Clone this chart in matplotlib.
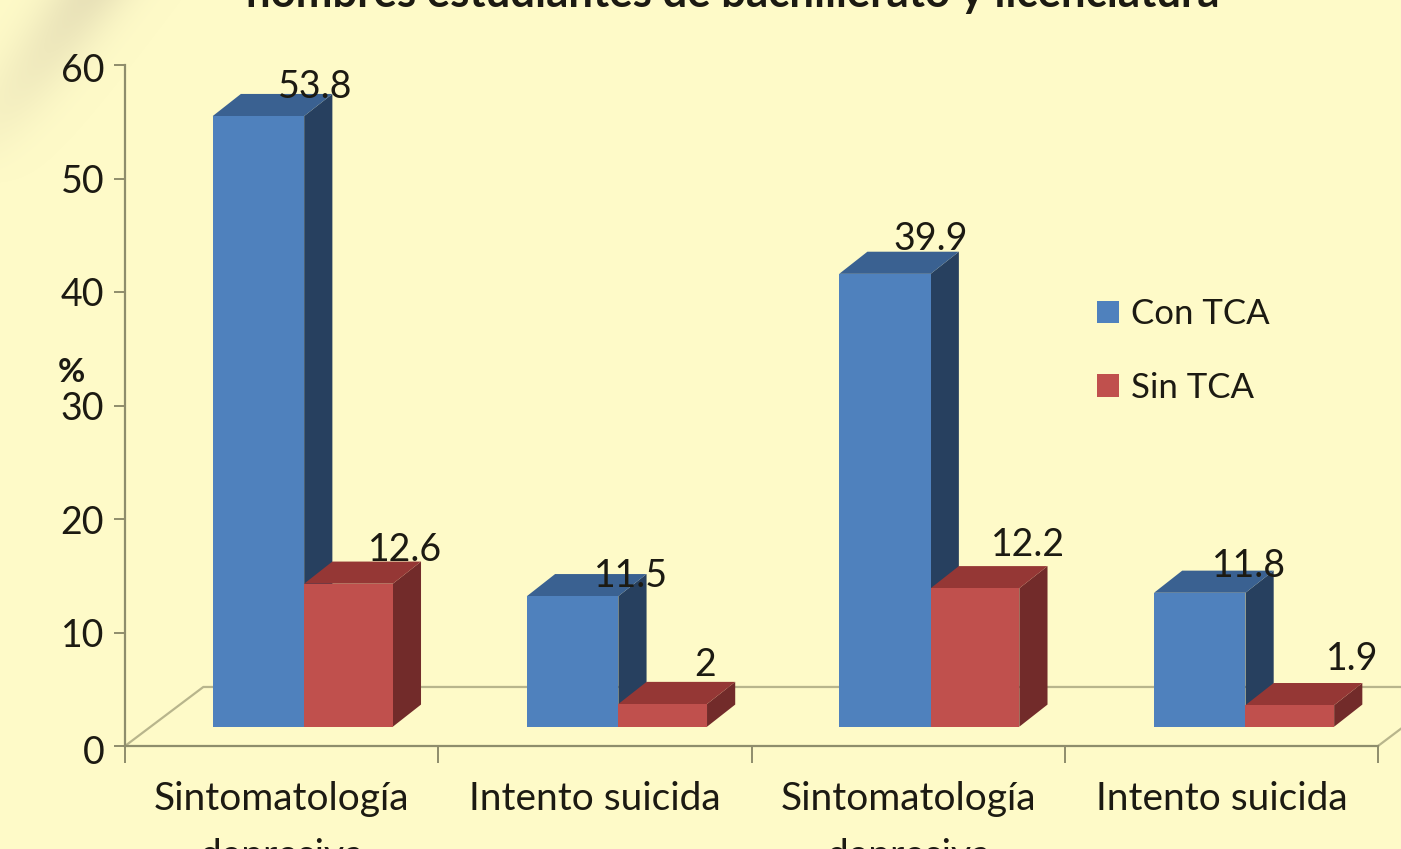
import matplotlib
matplotlib.use('Agg')
import matplotlib.pyplot as plt
from matplotlib.transforms import ScaledTranslation
import numpy as np

categorias = ['Sintomatología\ndepresiva', 'Intento suicida', 'Sintomatología\ndepresiva', 'Intento suicida']
con_tca = [53.8, 11.5, 39.9, 11.8]
sin_tca = [12.6, 2, 12.2, 1.9]
etiquetas_con = ['53.8', '11.5', '39.9', '11.8']
etiquetas_sin = ['12.6', '2', '12.2', '1.9']
y_ticks = [0, 10, 20, 30, 40, 50, 60]

plt.rcParams['font.family'] = ['Lato', 'DejaVu Sans']
FONDO = '#FEFAC8'
TEXTO = '#1c1a12'

W, H = 1401, 849
fig = plt.figure(figsize=(W / 100, H / 100), dpi=100, facecolor=FONDO)

# brillo de la esquina superior izquierda
yy, xx = np.mgrid[0:190, 0:190]
d = xx + yy * 0.7
brillo = np.exp(-((d - 85) / 42.0) ** 2) * np.clip(1 - yy / 185.0, 0, 1)
img = np.zeros((190, 190, 4))
img[..., 0] = 0.88
img[..., 1] = 0.85
img[..., 2] = 0.70
img[..., 3] = brillo * 0.7
fig.figimage(img, xo=0, yo=H - 190, origin='upper', zorder=-1)

ax = fig.add_axes([125 / W, 1 - 746 / H, (1378 - 125) / W, (746 - 65) / H])
ax.patch.set_alpha(0)
ax.set_xlim(0, 4)
ax.set_ylim(0, 60)

ancho_con = 0.292
ancho_sin = 0.283
base = 1.7
prof_x = 0.09
prof_y = 1.95
x_ini = np.array([0.28, 1.283, 2.28, 3.285])

# suelo del grafico
ax.plot([0, 0.25, 4.3], [0, 5.2, 5.2], color='#B8B58C', lw=1.6, clip_on=False, zorder=1)
ax.plot([4, 4.25], [0, 5.2], color='#B8B58C', lw=1.6, clip_on=False, zorder=1)


def barra_3d(x, v, ancho, c_frente, c_lado, c_arriba, label=None):
    top = base + v
    ax.fill([x + ancho, x + ancho + prof_x, x + ancho + prof_x, x + ancho],
            [base, base + prof_y, top + prof_y, top], color=c_lado, lw=0, zorder=2)
    ax.fill([x, x + prof_x, x + ancho + prof_x, x + ancho],
            [top, top + prof_y, top + prof_y, top], color=c_arriba, lw=0, zorder=2)
    ax.bar(x, v, ancho, bottom=base, align='edge', color=c_frente, lw=0, zorder=3, label=label)


for i in range(4):
    barra_3d(x_ini[i], con_tca[i], ancho_con, '#4F81BD', '#27405F', '#3A6191', 'Con TCA' if i == 0 else None)
    barra_3d(x_ini[i] + ancho_con, sin_tca[i], ancho_sin, '#C0504D', '#722B2A', '#953735', 'Sin TCA' if i == 0 else None)

# etiquetas de valores
desp_con = [(57, 29), (58, 20), (46, 35), (49, 27)]
desp_sin = [(57, 34), (42, 39), (53, 43), (62, 46)]
for i in range(4):
    ax.annotate(etiquetas_con[i], (x_ini[i] + ancho_con / 2, base + con_tca[i]), xytext=desp_con[i],
                textcoords='offset pixels', ha='center', va='center', fontsize=27, color=TEXTO, zorder=5)
    ax.annotate(etiquetas_sin[i], (x_ini[i] + ancho_con + ancho_sin / 2, base + sin_tca[i]), xytext=desp_sin[i],
                textcoords='offset pixels', ha='center', va='center', fontsize=27, color=TEXTO, zorder=5)

for s in ['top', 'right']:
    ax.spines[s].set_visible(False)
for s in ['left', 'bottom']:
    ax.spines[s].set_color('#8E8D6C')
    ax.spines[s].set_linewidth(1.6)

ax.set_yticks(y_ticks)
ax.tick_params(axis='y', length=8, width=1.4, color='#8E8D6C', labelsize=27, labelcolor=TEXTO, pad=7)
baja = ScaledTranslation(0, -3 / 100, fig.dpi_scale_trans)
for t in [ax.get_yticklabels()[0], ax.get_yticklabels()[-1]]:
    t.set_transform(t.get_transform() + baja)
ax.set_xticks(range(5))
ax.set_xticklabels([])
ax.tick_params(axis='x', which='major', length=12, width=1.4, color='#8E8D6C')
ax.set_xticks(np.arange(4) + 0.5, minor=True)
ax.set_xticklabels(categorias, minor=True, fontsize=28, color=TEXTO, linespacing=1.75)
ax.tick_params(axis='x', which='minor', length=0, pad=25)

ax.set_ylabel('%', rotation=0, fontsize=24, color=TEXTO, va='center', fontweight='bold')
ax.yaxis.set_label_coords(-0.043, 0.548)

ax.legend(loc='upper left', bbox_to_anchor=(1066 / W, 1 - 267 / H), bbox_transform=fig.transFigure,
          frameon=False, fontsize=25, handlelength=0.62, handleheight=0.62, handletextpad=0.35,
          labelspacing=1.2, labelcolor=TEXTO)

fig.text(733 / W, 1 - 7 / H, 'hombres estudiantes de bachillerato y licenciatura', ha='center',
         va='baseline', fontsize=31.5, fontweight='bold', color=TEXTO)

fig.savefig('out.png', dpi=100, facecolor=FONDO)
